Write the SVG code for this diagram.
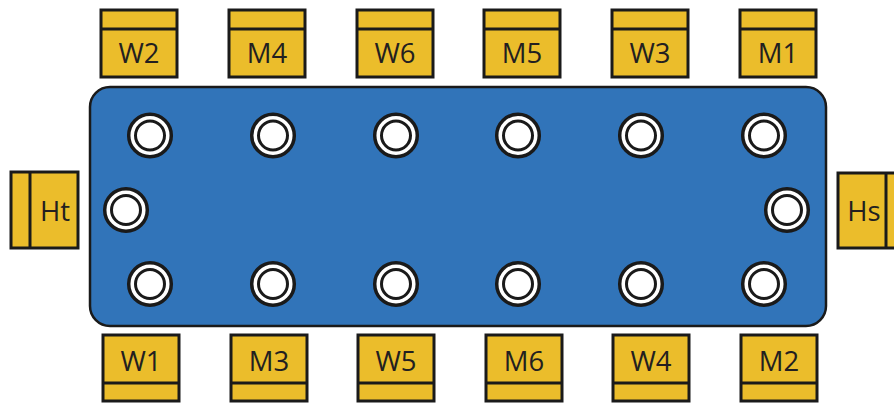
<svg xmlns="http://www.w3.org/2000/svg" width="894" height="403" viewBox="0 0 894 403">
<style>
.chair{fill:#ebbd2b;stroke:#1a1a1a;stroke-width:3}
.lbl{font-family:"Open Sans","Liberation Sans",sans-serif;font-size:27.5px;fill:#231f20;text-anchor:middle}
.ro{fill:#fff;stroke:#1a1a1a;stroke-width:3.5}
.ri{fill:#fff;stroke:#1a1a1a;stroke-width:3}
</style>
<defs>
<g id="seat"><circle r="21.3" class="ro"/><circle r="14.5" class="ri"/></g>
<g id="chairT"><rect x="0" y="0" width="76" height="67" class="chair"/><line x1="0" y1="19" x2="76" y2="19" stroke="#1a1a1a" stroke-width="3"/></g>
<g id="chairB"><rect x="0" y="0" width="76" height="66" class="chair"/><line x1="0" y1="48" x2="76" y2="48" stroke="#1a1a1a" stroke-width="3"/></g>
</defs>
<g id="table">
<rect x="90" y="87" width="736" height="239" rx="20" fill="#3174b9" stroke="#1a1a1a" stroke-width="2.5"/>
<use href="#seat" x="150" y="135.5"/><use href="#seat" x="273" y="135.5"/><use href="#seat" x="396" y="135.5"/><use href="#seat" x="518" y="135.5"/><use href="#seat" x="641" y="135.5"/><use href="#seat" x="764" y="135.5"/>
<use href="#seat" x="150" y="284"/><use href="#seat" x="273" y="284"/><use href="#seat" x="396" y="284"/><use href="#seat" x="518" y="284"/><use href="#seat" x="641" y="284"/><use href="#seat" x="764" y="284"/>
<use href="#seat" x="126" y="210"/><use href="#seat" x="787" y="210"/>
</g>
<g id="W2"><use href="#chairT" x="101" y="10"/><text class="lbl" x="139" y="63">W2</text></g>
<g id="M4"><use href="#chairT" x="229" y="10"/><text class="lbl" x="267" y="63">M4</text></g>
<g id="W6"><use href="#chairT" x="357" y="10"/><text class="lbl" x="395" y="63">W6</text></g>
<g id="M5"><use href="#chairT" x="484" y="10"/><text class="lbl" x="522" y="63">M5</text></g>
<g id="W3"><use href="#chairT" x="612" y="10"/><text class="lbl" x="650" y="63">W3</text></g>
<g id="M1"><use href="#chairT" x="740" y="10"/><text class="lbl" x="778" y="63">M1</text></g>
<g id="W1"><use href="#chairB" x="103" y="335"/><text class="lbl" x="141" y="371">W1</text></g>
<g id="M3"><use href="#chairB" x="231" y="335"/><text class="lbl" x="269" y="371">M3</text></g>
<g id="W5"><use href="#chairB" x="358" y="335"/><text class="lbl" x="396" y="371">W5</text></g>
<g id="M6"><use href="#chairB" x="486" y="335"/><text class="lbl" x="524" y="371">M6</text></g>
<g id="W4"><use href="#chairB" x="613" y="335"/><text class="lbl" x="651" y="371">W4</text></g>
<g id="M2"><use href="#chairB" x="741" y="335"/><text class="lbl" x="779" y="371">M2</text></g>
<g id="Ht"><rect x="11" y="172" width="67" height="76" class="chair"/><line x1="30" y1="172" x2="30" y2="248" stroke="#1a1a1a" stroke-width="3"/><text class="lbl" x="55" y="221">Ht</text></g>
<g id="Hs"><rect x="838" y="173" width="67" height="75" class="chair"/><line x1="886" y1="173" x2="886" y2="248" stroke="#1a1a1a" stroke-width="3"/><text class="lbl" x="864" y="221">Hs</text></g>
<g id="connectors"/>
</svg>
